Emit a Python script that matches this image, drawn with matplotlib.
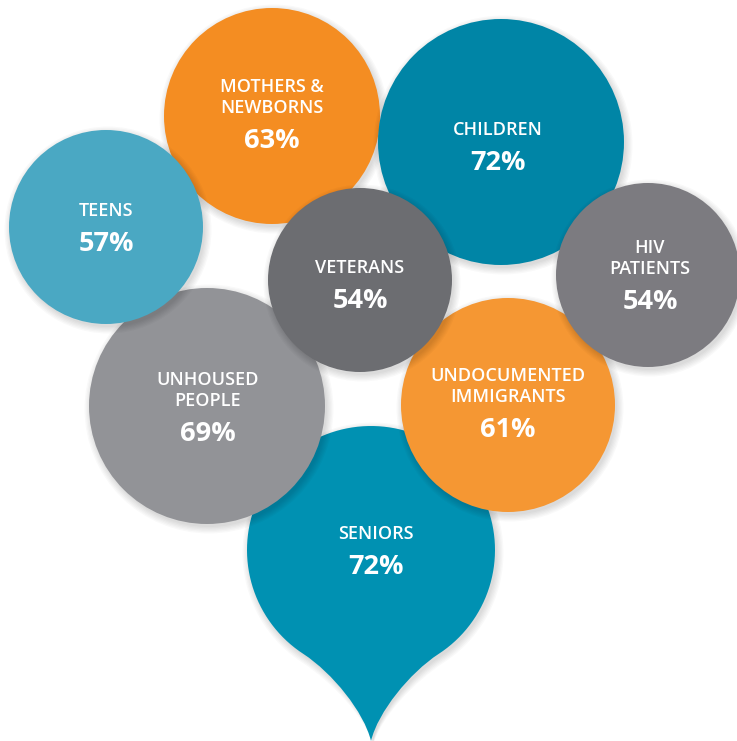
import numpy as np
import matplotlib
matplotlib.use('Agg')
import matplotlib.pyplot as plt
from matplotlib.patches import Circle, PathPatch
from matplotlib.path import Path

plt.rcParams['font.family'] = ['Open Sans', 'DejaVu Sans']

# data
groups = ['SENIORS', 'MOTHERS &\nNEWBORNS', 'CHILDREN', 'UNHOUSED\nPEOPLE', 'TEENS',
          'UNDOCUMENTED\nIMMIGRANTS', 'HIV\nPATIENTS', 'VETERANS']
values = [72, 63, 72, 69, 57, 61, 54, 54]

# layout (pixel coords, y down), drawn in this order
centers = [(371, 550), (272, 116), (501, 142), (207, 406), (106, 227),
           (508, 405), (648, 275), (360, 280)]
radii = [124, 108, 123, 118, 97, 107, 92, 92]
colors = ['#0091b2', '#f48d22', '#0085a6', '#929397', '#4aa8c3',
          '#f59733', '#7c7b80', '#6c6d71']
label_y = [534, 87, 130, 380, 211, 376, 248, 268]
label_x = [376, 272, 498, 208, 106, 508, 650, 360]


def pin_path(cx, cy, r, tip_y):
    # circle with a concave point at the bottom
    phi = np.radians(np.linspace(57, 57 - 294, 120))
    pts = [(cx + r * np.cos(p), cy + r * np.sin(p)) for p in phi]
    codes = [Path.MOVETO] + [Path.LINETO] * (len(pts) - 1)
    lx, ly = pts[-1]
    rx, ry = pts[0]
    tip = (cx, tip_y)
    pts += [(lx + 29, ly + 19), (cx - 7, tip_y - 29), tip,
            (cx + 7, tip_y - 29), (rx - 29, ry + 19), (rx, ry)]
    codes += [Path.CURVE4] * 6
    return Path(pts, codes)


fig = plt.figure(figsize=(7.37, 7.41), dpi=100)
ax = fig.add_axes([0, 0, 1, 1])
ax.set_xlim(0, 737)
ax.set_ylim(741, 0)
ax.axis('off')

for i, (g, v) in enumerate(zip(groups, values)):
    cx, cy = centers[i]
    r = radii[i]
    z = 2 * i + 1
    # soft drop shadow
    for k in range(6):
        if i == 0:
            p = pin_path(cx + 2, cy + 3, r + k * 1.3, 741 + k)
            ax.add_patch(PathPatch(p, fc='black', ec='none', alpha=0.025, zorder=z))
        else:
            ax.add_patch(Circle((cx + 2, cy + 3), r + k * 1.3, fc='black', ec='none',
                                alpha=0.025, zorder=z))
    if i == 0:
        ax.add_patch(PathPatch(pin_path(cx, cy, r, 741), fc=colors[i], ec='none', zorder=z + 1))
    else:
        ax.add_patch(Circle((cx, cy), r, fc=colors[i], ec='none', zorder=z + 1))

    lines = g.split('\n')
    ly = label_y[i]
    lx = label_x[i]
    for j, line in enumerate(lines):
        ax.text(lx, ly + j * 21, line, color='white', fontsize=13, fontweight='semibold',
                ha='center', va='center', zorder=z + 1)
    ax.text(lx, ly + (len(lines) - 1) * 21 + 33, f'{v}%', color='white', fontsize=19.5,
            fontweight='bold', ha='center', va='center', zorder=z + 1)

fig.savefig('out.png', dpi=100, facecolor='white')
